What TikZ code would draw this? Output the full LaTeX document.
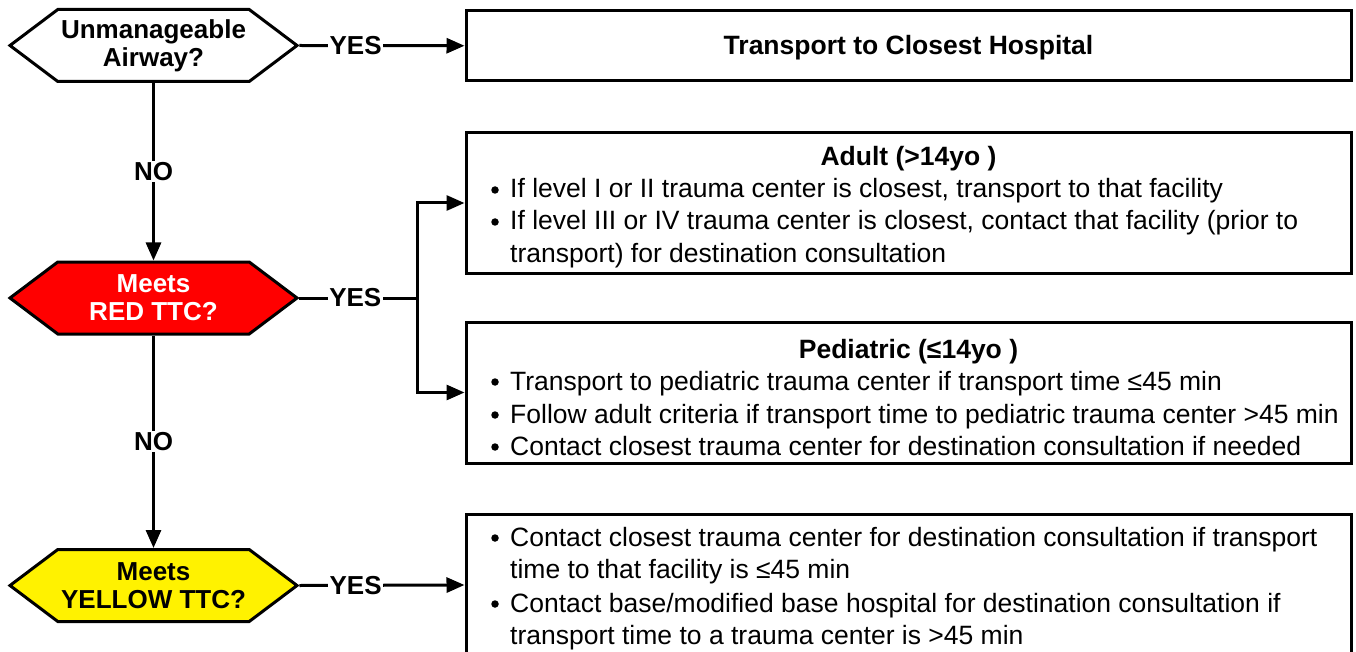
\documentclass[tikz,border=0pt]{standalone}
\usepackage{fontspec}
\setmainfont{Liberation Sans}
\usetikzlibrary{arrows.meta,shapes.symbols}
\begin{document}
\begin{tikzpicture}[x=1pt,y=-1pt,
  hexq/.style={signal, signal to=east and west, signal pointer angle=74,
    draw, line width=3pt, minimum width=287pt, minimum height=72pt,
    inner sep=0pt, align=center, font=\bfseries\fontsize{26}{28}\selectfont},
  infobox/.style={draw, line width=3pt, minimum width=885pt, inner sep=0pt},
  conn/.style={line width=3pt},
  arr/.style={line width=3pt, -{Triangle[length=18pt,width=15pt]}},
  lbl/.style={fill=white, inner sep=1.5pt, font=\bfseries\fontsize{26}{28}\selectfont},
  txt/.style={anchor=base west, inner sep=0pt, font=\fontsize{26.5}{32}\selectfont},
  bul/.style={circle, fill=black, inner sep=0pt, minimum size=7.5pt},
  ttl/.style={anchor=base, inner sep=0pt, font=\bfseries\fontsize{26.5}{32}\selectfont}
]
\useasboundingbox (0,0) rectangle (1356,652);
\clip (0,0) rectangle (1356,652);

% decision hexagons
\node[hexq, fill=white] (h1) at (153.5,45.5) {Unmanageable\\Airway?};
\node[hexq, fill=red, text=white] (h2) at (153.5,298) {Meets\\RED TTC?};
\node[hexq, fill=yellow] (h3) at (153.5,585.5) {Meets\\YELLOW TTC?};

% boxes
\node[infobox, minimum height=70.5pt] (tb) at (908.5,45.75) {};
\node[ttl] (tbt) at (908.5,55) {Transport to Closest Hospital};

\node[infobox, minimum height=140pt] (ab) at (908.5,203) {};
\node[infobox, minimum height=141pt] (pb) at (908.5,392.5) {};
\node[infobox, minimum height=142pt] (yb) at (908.5,585) {};

% branch point
\coordinate (br) at (417,298);

% connectors
\draw[arr] (h1.east) -- node[lbl, pos=0.34] (y1) {YES} (tb.west);
\draw[arr] (h1.south) -- node[lbl, midway] (n1) {NO} (h2.north);
\draw[arr] (h2.south) -- node[lbl, midway] (n2) {NO} (h3.north);
\draw[conn] (h2.east) -- node[lbl, pos=0.475] (y2) {YES} (br);
\draw[arr] (br) |- (ab.west);
\draw[arr] (br) |- (pb.west);
\draw[arr] (h3.east) -- node[lbl, pos=0.34] (y3) {YES} (yb.west);

% adult text
\node[ttl] (at) at (908.5,166) {Adult (>14yo )};
\node[bul] (ab1) at (495,190) {};
\node[txt] (a1) at (510,198) {If level I or II trauma center is closest, transport to that facility};
\node[bul] (ab2) at (495,222) {};
\node[txt] (a2) at (510,230) {If level III or IV trauma center is closest, contact that facility (prior to};
\node[txt] (a3) at (510,262) {transport) for destination consultation};

% pediatric text
\node[ttl] (pt) at (908.5,358) {Pediatric (≤14yo )};
\node[bul] (pb1) at (495,382) {};
\node[txt] (p1) at (510,390) {Transport to pediatric trauma center if transport time ≤45 min};
\node[bul] (pb2) at (495,415) {};
\node[txt] (p2) at (510,423) {Follow adult criteria if transport time to pediatric trauma center >45 min};
\node[bul] (pb3) at (495,447) {};
\node[txt] (p3) at (510,455) {Contact closest trauma center for destination consultation if needed};

% yellow text
\node[bul] (yb1) at (495,538) {};
\node[txt] (t1) at (510,546) {Contact closest trauma center for destination consultation if transport};
\node[txt] (t2) at (510,578) {time to that facility is ≤45 min};
\node[bul] (yb2) at (495,604) {};
\node[txt] (t3) at (510,612) {Contact base/modified base hospital for destination consultation if};
\node[txt] (t4) at (510,644) {transport time to a trauma center is >45 min};
\end{tikzpicture}
\end{document}
